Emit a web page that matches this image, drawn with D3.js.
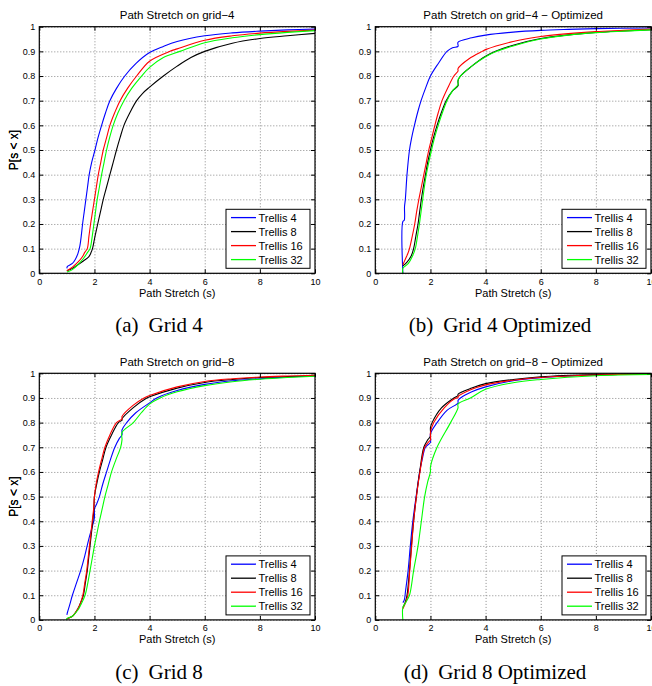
<!DOCTYPE html>
<html>
<head>
<meta charset="utf-8">
<script src="https://cdn.jsdelivr.net/npm/d3@7"></script>
<style>
  body { margin: 0; background: #fff; }
  svg { display: block; }
  .axis text { font-family: "Liberation Sans", Arial, sans-serif; font-size: 9px; fill: #000; }
  .axis line { stroke: #000; }
  .axis .domain { display: none; }
  .grid line { stroke: #8a8a8a; stroke-dasharray: 1, 2; }
  .grid .domain { display: none; }
  .label { font-family: "Liberation Sans", Arial, sans-serif; font-size: 11px; fill: #000; }
  .ylabel { font-family: "Liberation Sans", Arial, sans-serif; font-size: 12px; fill: #000; }
  .title { font-family: "Liberation Sans", Arial, sans-serif; font-size: 11.5px; fill: #000; }
  .legend text { font-family: "Liberation Sans", Arial, sans-serif; font-size: 11px; fill: #000; }
  .caption { font-family: "Liberation Serif", "Times New Roman", serif; font-size: 21px; fill: #000; }
</style>
</head>
<body>
<div id="chart"></div>
<script>
const width = 652;
const height = 686;

const seriesNames = ["Trellis 4", "Trellis 8", "Trellis 16", "Trellis 32"];
const seriesColors = ["#0000ff", "#000000", "#ff0000", "#00ff00"];
const xTicks = [0, 2, 4, 6, 8, 10];
const yTicks = [0, 0.1, 0.2, 0.3, 0.4, 0.5, 0.6, 0.7, 0.8, 0.9, 1];

// [path stretch, P[s < x]]
const grid4Trellis4 = [[1,0.02],[1.02,0.028],[1.2,0.04],[1.3,0.055],[1.4,0.08],[1.47,0.11],[1.52,0.15],[1.57,0.2],[1.63,0.25],[1.69,0.3],[1.75,0.35],[1.81,0.4],[1.9,0.45],[2.02,0.5],[2.13,0.55],[2.26,0.6],[2.4,0.65],[2.56,0.7],[2.8,0.75],[3.1,0.8],[3.5,0.85],[4,0.895],[4.5,0.92],[5,0.94],[6,0.963],[7,0.975],[8,0.982],[9,0.987],[10,0.99]];
const grid4Trellis8 = [[1,0.01],[1.2,0.02],[1.4,0.035],[1.6,0.05],[1.8,0.068],[1.88,0.085],[1.93,0.1],[2.02,0.15],[2.12,0.2],[2.22,0.25],[2.32,0.3],[2.44,0.35],[2.56,0.4],[2.68,0.45],[2.8,0.5],[2.93,0.55],[3.07,0.6],[3.28,0.65],[3.53,0.7],[3.75,0.73],[4,0.755],[4.5,0.8],[5,0.84],[5.5,0.875],[6,0.9],[7,0.933],[8,0.952],[9,0.963],[10,0.973]];
const grid4Trellis16 = [[1,0.01],[1.2,0.025],[1.4,0.045],[1.55,0.065],[1.65,0.085],[1.74,0.1],[1.8,0.15],[1.86,0.2],[1.93,0.25],[2,0.3],[2.07,0.35],[2.14,0.4],[2.23,0.45],[2.32,0.5],[2.44,0.55],[2.56,0.6],[2.73,0.65],[2.93,0.7],[3.2,0.75],[3.53,0.8],[4,0.86],[4.74,0.9],[5,0.91],[6,0.945],[7,0.963],[8,0.974],[9,0.981],[10,0.986]];
const grid4Trellis32 = [[1,0.005],[1.2,0.015],[1.4,0.035],[1.6,0.06],[1.75,0.085],[1.84,0.1],[1.92,0.15],[1.98,0.2],[2.04,0.25],[2.1,0.3],[2.18,0.35],[2.26,0.4],[2.35,0.45],[2.44,0.5],[2.55,0.55],[2.68,0.6],[2.85,0.65],[3.07,0.7],[3.35,0.75],[3.71,0.8],[4,0.835],[4.5,0.875],[5.1,0.9],[6,0.935],[7,0.955],[8,0.968],[9,0.977],[10,0.984]];

const grid4OptTrellis4 = [[1,0],[1,0.21],[1.05,0.215],[1.06,0.27],[1.09,0.3],[1.15,0.4],[1.24,0.5],[1.32,0.55],[1.42,0.6],[1.53,0.65],[1.66,0.7],[1.82,0.75],[2,0.8],[2.28,0.85],[2.6,0.9],[2.8,0.915],[3,0.92],[3,0.937],[3.5,0.955],[4,0.966],[5,0.978],[6,0.985],[7,0.989],[8,0.992],[10,0.995]];
const grid4OptTrellis8 = [[1,0.03],[1.15,0.045],[1.3,0.07],[1.39,0.1],[1.47,0.15],[1.55,0.2],[1.61,0.25],[1.67,0.3],[1.74,0.35],[1.82,0.4],[1.9,0.45],[2,0.5],[2.11,0.55],[2.24,0.6],[2.39,0.65],[2.57,0.7],[2.8,0.74],[3,0.76],[3,0.78],[3.09,0.8],[3.5,0.84],[4,0.88],[4.36,0.9],[5,0.925],[6,0.952],[7,0.967],[8,0.977],[9,0.983],[10,0.988]];
const grid4OptTrellis16 = [[1,0.035],[1.1,0.06],[1.18,0.08],[1.24,0.1],[1.34,0.15],[1.43,0.2],[1.5,0.25],[1.58,0.3],[1.67,0.35],[1.76,0.4],[1.85,0.45],[1.94,0.5],[2.05,0.55],[2.16,0.6],[2.28,0.65],[2.42,0.7],[2.62,0.75],[2.85,0.8],[3,0.82],[3,0.83],[3.4,0.87],[3.88,0.9],[4,0.907],[5,0.94],[6,0.96],[7,0.972],[8,0.98],[9,0.985],[10,0.99]];
const grid4OptTrellis32 = [[1,0],[1,0.02],[1.2,0.04],[1.35,0.07],[1.45,0.1],[1.53,0.15],[1.6,0.2],[1.66,0.25],[1.72,0.3],[1.78,0.35],[1.85,0.4],[1.94,0.45],[2.04,0.5],[2.15,0.55],[2.28,0.6],[2.43,0.65],[2.6,0.7],[2.8,0.74],[3,0.765],[3,0.785],[3.09,0.8],[3.5,0.84],[4,0.878],[4.4,0.9],[5,0.922],[6,0.95],[7,0.966],[8,0.976],[9,0.982],[10,0.987]];

const grid8Trellis4 = [[1,0.02],[1.02,0.03],[1.1,0.06],[1.2,0.1],[1.35,0.15],[1.5,0.2],[1.65,0.26],[1.8,0.33],[1.9,0.37],[2,0.415],[2,0.45],[2.08,0.47],[2.18,0.5],[2.3,0.55],[2.44,0.6],[2.58,0.65],[2.74,0.7],[2.9,0.735],[3,0.75],[3,0.77],[3.17,0.8],[3.5,0.84],[4,0.88],[4.26,0.9],[5,0.93],[6,0.955],[7,0.97],[8,0.978],[9,0.985],[10,0.99]];
const grid8Trellis8 = [[1,0.005],[1.2,0.015],[1.4,0.045],[1.5,0.07],[1.6,0.1],[1.67,0.15],[1.74,0.2],[1.79,0.25],[1.84,0.3],[1.89,0.35],[1.94,0.4],[1.98,0.45],[2,0.5],[2.08,0.55],[2.18,0.6],[2.3,0.65],[2.42,0.7],[2.62,0.75],[2.87,0.8],[3,0.81],[3,0.815],[3.4,0.86],[3.9,0.9],[4,0.905],[5,0.94],[6,0.963],[7,0.975],[8,0.983],[9,0.987],[10,0.99]];
const grid8Trellis16 = [[1,0.005],[1.2,0.015],[1.4,0.045],[1.5,0.07],[1.58,0.1],[1.65,0.15],[1.72,0.2],[1.77,0.25],[1.82,0.3],[1.87,0.35],[1.92,0.4],[1.97,0.45],[2,0.5],[2.06,0.55],[2.15,0.6],[2.26,0.65],[2.38,0.7],[2.56,0.75],[2.8,0.8],[3,0.815],[3,0.825],[3.4,0.87],[3.8,0.9],[4,0.91],[5,0.945],[6,0.967],[7,0.978],[8,0.985],[9,0.989],[10,0.992]];
const grid8Trellis32 = [[1,0],[1,0.005],[1.2,0.015],[1.4,0.04],[1.5,0.06],[1.66,0.1],[1.76,0.15],[1.84,0.2],[1.92,0.25],[2,0.3],[2.09,0.35],[2.18,0.4],[2.28,0.45],[2.38,0.5],[2.5,0.55],[2.62,0.6],[2.78,0.65],[2.95,0.7],[3,0.73],[3,0.76],[3.41,0.8],[3.7,0.84],[4,0.875],[4.38,0.9],[5,0.925],[6,0.95],[7,0.966],[8,0.976],[9,0.983],[10,0.988]];

const grid8OptTrellis4 = [[1,0.07],[1.05,0.08],[1.1,0.12],[1.19,0.2],[1.27,0.3],[1.36,0.4],[1.48,0.5],[1.61,0.6],[1.7,0.65],[1.82,0.7],[2,0.72],[2,0.755],[2.24,0.8],[2.6,0.85],[3,0.88],[3,0.89],[3.09,0.9],[3.5,0.925],[4,0.945],[5,0.97],[6,0.982],[8,0.993],[10,0.997]];
const grid8OptTrellis8 = [[1,0.05],[1.08,0.07],[1.15,0.1],[1.24,0.2],[1.31,0.3],[1.39,0.4],[1.49,0.5],[1.61,0.6],[1.76,0.7],[1.9,0.73],[2,0.745],[2,0.78],[2.06,0.8],[2.4,0.86],[2.85,0.9],[3,0.91],[3,0.915],[3.5,0.94],[4,0.958],[5,0.975],[6,0.986],[8,0.995],[10,0.998]];
const grid8OptTrellis16 = [[1,0.045],[1.1,0.07],[1.18,0.1],[1.25,0.2],[1.32,0.3],[1.39,0.4],[1.49,0.5],[1.62,0.6],[1.79,0.7],[1.92,0.72],[2,0.73],[2,0.76],[2.12,0.8],[2.5,0.86],[2.93,0.9],[3,0.9],[3,0.905],[3.5,0.935],[4,0.953],[5,0.972],[6,0.983],[8,0.993],[10,0.997]];
const grid8OptTrellis32 = [[1,0],[1,0.05],[1.1,0.07],[1.24,0.1],[1.39,0.2],[1.55,0.3],[1.67,0.4],[1.79,0.5],[1.9,0.56],[2,0.6],[2,0.62],[2.24,0.7],[2.73,0.8],[3,0.86],[3,0.875],[3.45,0.9],[4,0.935],[5,0.962],[6,0.975],[8,0.99],[10,0.995]];

const plotWidth = 275.7;
const plotHeight = 246.6;

const panels = [
  { title: "Path Stretch on grid\u22124", caption: ["(a)", "Grid 4"], left: 39.3, top: 26.7, capX: 159, capY: 331.5,
    series: [grid4Trellis4, grid4Trellis8, grid4Trellis16, grid4Trellis32] },
  { title: "Path Stretch on grid\u22124 \u2212 Optimized", caption: ["(b)", "Grid 4 Optimized"], left: 375.3, top: 26.7, capX: 500, capY: 331.5,
    series: [grid4OptTrellis4, grid4OptTrellis8, grid4OptTrellis16, grid4OptTrellis32] },
  { title: "Path Stretch on grid\u22128", caption: ["(c)", "Grid 8"], left: 39.3, top: 373.3, capX: 159, capY: 678.5,
    series: [grid8Trellis4, grid8Trellis8, grid8Trellis16, grid8Trellis32] },
  { title: "Path Stretch on grid\u22128 \u2212 Optimized", caption: ["(d)", "Grid 8 Optimized"], left: 375.3, top: 373.3, capX: 495, capY: 678.5,
    series: [grid8OptTrellis4, grid8OptTrellis8, grid8OptTrellis16, grid8OptTrellis32] }
];

const svg = d3
  .select("#chart")
  .append("svg")
  .attr("width", width)
  .attr("height", height);

const x = d3.scaleLinear().domain([0, 10]).range([0, plotWidth]);
const y = d3.scaleLinear().domain([0, 1]).range([plotHeight, 0]);
const line = d3
  .line()
  .x((d) => x(d[0]))
  .y((d) => y(d[1]))
  .curve(d3.curveCatmullRom.alpha(0.5));
const tickLen = 4;

panels.forEach((p) => {
  const g = svg.append("g").attr("transform", `translate(${p.left},${p.top})`);

  g.append("rect").attr("width", plotWidth).attr("height", plotHeight).attr("fill", "#fff");

  // dotted grid
  g.append("g")
    .attr("class", "grid")
    .attr("transform", `translate(0,${plotHeight})`)
    .call(d3.axisBottom(x).tickValues(xTicks).tickSize(-plotHeight).tickFormat(""));
  g.append("g")
    .attr("class", "grid")
    .call(d3.axisLeft(y).tickValues(yTicks).tickSize(-plotWidth).tickFormat(""));

  p.series.forEach((s, i) => {
    g.append("path")
      .datum(s)
      .attr("fill", "none")
      .attr("stroke", seriesColors[i])
      .attr("stroke-width", 1.1)
      .attr("stroke-linejoin", "round")
      .attr("d", line);
  });

  // ticks point inward on all four sides
  g.append("g")
    .attr("class", "axis")
    .attr("transform", `translate(0,${plotHeight})`)
    .call(d3.axisBottom(x).tickValues(xTicks).tickSizeInner(-tickLen).tickSizeOuter(0).tickPadding(5).tickFormat(d3.format("d")));
  g.append("g")
    .attr("class", "axis")
    .call(d3.axisTop(x).tickValues(xTicks).tickSizeInner(-tickLen).tickSizeOuter(0).tickFormat(""));
  g.append("g")
    .attr("class", "axis")
    .call(d3.axisLeft(y).tickValues(yTicks).tickSizeInner(-tickLen).tickSizeOuter(0).tickPadding(4).tickFormat((d) => String(d)));
  g.append("g")
    .attr("class", "axis")
    .attr("transform", `translate(${plotWidth},0)`)
    .call(d3.axisRight(y).tickValues(yTicks).tickSizeInner(-tickLen).tickSizeOuter(0).tickFormat(""));

  g.append("rect")
    .attr("width", plotWidth)
    .attr("height", plotHeight)
    .attr("fill", "none")
    .attr("stroke", "#000")
    .attr("stroke-width", 1.2);

  g.append("text")
    .attr("class", "title")
    .attr("x", plotWidth / 2)
    .attr("y", -7.5)
    .attr("text-anchor", "middle")
    .text(p.title);

  g.append("text")
    .attr("class", "label")
    .attr("x", plotWidth / 2)
    .attr("y", plotHeight + 23.3)
    .attr("text-anchor", "middle")
    .text("Path Stretch (s)");

  g.append("text")
    .attr("class", "ylabel")
    .attr("transform", `translate(${17.8 - p.left},${plotHeight / 2}) rotate(-90)`)
    .attr("text-anchor", "middle")
    .text("P[s < x]");

  // legend
  const legW = 84;
  const legH = 59;
  const legend = g.append("g")
    .attr("class", "legend")
    .attr("transform", `translate(${plotWidth - 5 - legW},${plotHeight - 5 - legH})`);
  legend.append("rect")
    .attr("width", legW)
    .attr("height", legH)
    .attr("fill", "#fff")
    .attr("stroke", "#000")
    .attr("stroke-width", 1);
  seriesNames.forEach((name, i) => {
    const ry = 8.3 + i * 14;
    legend.append("line")
      .attr("x1", 5)
      .attr("x2", 30)
      .attr("y1", ry)
      .attr("y2", ry)
      .attr("stroke", seriesColors[i])
      .attr("stroke-width", 1.3);
    legend.append("text")
      .attr("x", 32.5)
      .attr("y", ry + 4)
      .text(name);
  });

  const cap = svg.append("text")
    .attr("class", "caption")
    .attr("x", p.capX)
    .attr("y", p.capY)
    .attr("text-anchor", "middle");
  cap.append("tspan").text(p.caption[0]);
  cap.append("tspan").attr("dx", 10).text(p.caption[1]);
});
</script>
</body>
</html>
